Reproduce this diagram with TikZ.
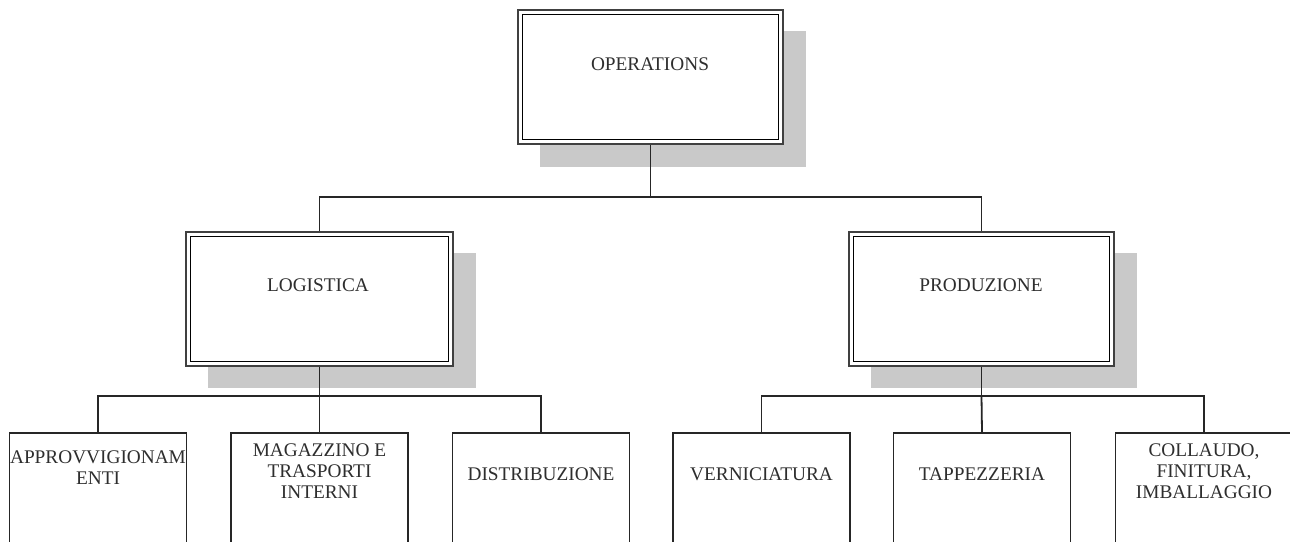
\documentclass[tikz,border=0pt]{standalone}
\usepackage{fontspec}
\setmainfont{Liberation Serif}
\begin{document}
\begin{tikzpicture}[x=1pt,y=-1pt,
  shadowfill/.style={fill=black!21},
  unitbox/.style={draw=black!75, line width=2.6pt, fill=white, inner sep=0pt, minimum width=#1},
  leafbox/.style={draw=black!85, line width=1.7pt, fill=white, inner sep=0pt, minimum width=177pt, minimum height=140pt, anchor=north},
  boxtext/.style={text=black!82, font=\fontsize{19.3}{21}\selectfont, align=center, inner sep=0pt},
  wire/.style={draw=black!85, line width=1.8pt}]
\clip (0,0) rectangle (1290,541);
\fill[white] (0,0) rectangle (1290,541);

% shadows of the unit boxes
\fill[shadowfill] (540,31) rectangle (806,167);
\fill[shadowfill] (208,253) rectangle (476,388);
\fill[shadowfill] (871,253) rectangle (1137,388);

% unit boxes (double frame: heavy outer line, thin inner line)
\node[unitbox=265pt, minimum height=134pt] (ops) at (650.5,77) {};
\node[unitbox=267pt, minimum height=134pt] (log) at (319.5,299) {};
\node[unitbox=265pt, minimum height=134pt] (prod) at (981.5,299) {};
\foreach \b in {ops,log,prod}
  \draw[black, line width=1.2pt] ([shift={(5.5,5.5)}]\b.north west) rectangle ([shift={(-5.5,-5.5)}]\b.south east);

\node[boxtext] (opsT) at (650,64) {OPERATIONS};
\node[boxtext] (logT) at (318,285) {LOGISTICA};
\node[boxtext] (prodT) at (981,285) {PRODUZIONE};

% leaf boxes
\node[leafbox] (app) at (98,432) {};
\node[leafbox] (mag) at (319.5,432) {};
\node[leafbox] (dis) at (541,432) {};
\node[leafbox] (ver) at (761.5,432) {};
\node[leafbox] (tap) at (982,432) {};
\node[leafbox] (col) at (1204,432) {};

\node[boxtext] (appT) at (98,468) {APPROVVIGIONAM\\ENTI};
\node[boxtext] (magT) at (319.5,471) {MAGAZZINO E\\TRASPORTI\\INTERNI};
\node[boxtext] (disT) at (541,474) {DISTRIBUZIONE};
\node[boxtext] (verT) at (761.5,474) {VERNICIATURA};
\node[boxtext] (tapT) at (982,474) {TAPPEZZERIA};
\node[boxtext] (colT) at (1204,471) {COLLAUDO,\\FINITURA,\\IMBALLAGGIO};

% connectors
\coordinate (topbus) at (650.5,197);
\coordinate (logbus) at (319.5,396);
\coordinate (prodbus) at (981.5,396);
\draw[wire] (ops.south) -- (topbus);
\draw[wire] (topbus) -| (log.north);
\draw[wire] (topbus) -| (prod.north);
\draw[wire] (log.south) -- (logbus);
\draw[wire] (logbus) -| (app.north);
\draw[wire] (logbus) -- (mag.north);
\draw[wire] (logbus) -| (dis.north);
\draw[wire] (prod.south) -- (prodbus);
\draw[wire] (prodbus) -| (ver.north);
\draw[wire] (prodbus) -- (tap.north);
\draw[wire] (prodbus) -| (col.north);
\end{tikzpicture}
\end{document}
